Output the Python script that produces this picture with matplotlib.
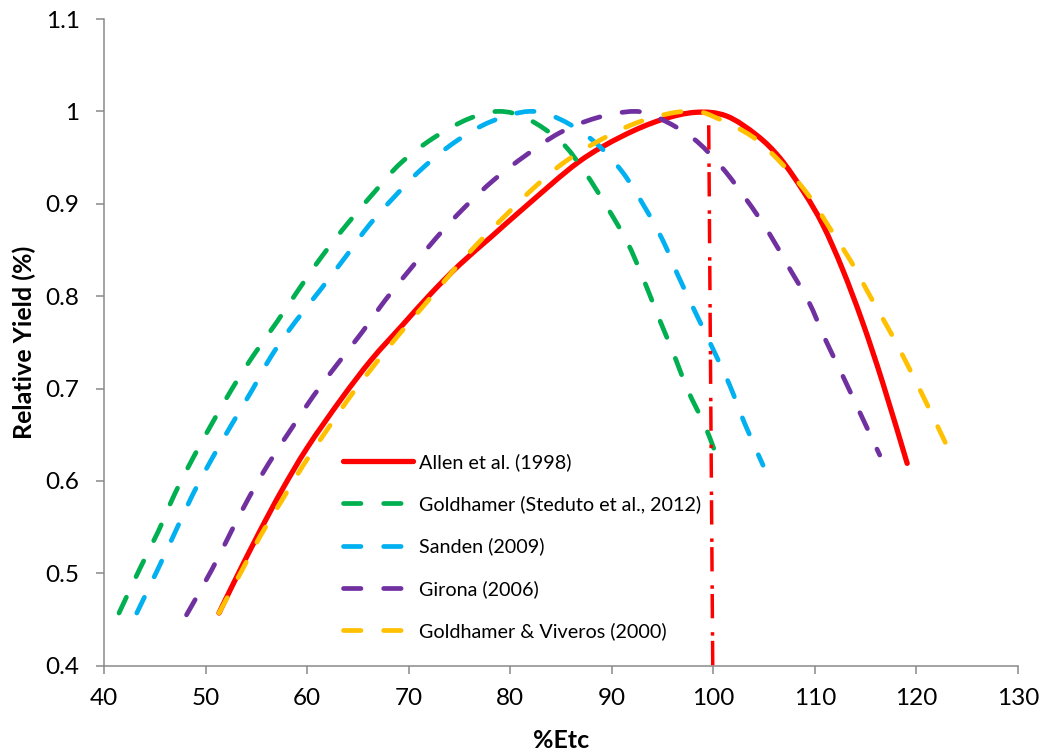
import matplotlib
matplotlib.use('Agg')
import matplotlib.pyplot as plt
from matplotlib.path import Path
from matplotlib.patches import PathPatch
from matplotlib.lines import Line2D

plt.rcParams['font.family'] = ['Lato', 'DejaVu Sans']

# relative yield vs. applied water (%ETc) for each production function
allen_x = [51.3, 52.9, 55.2, 57.5, 60.0, 63.3, 66.3, 69.4, 72.2, 75.0, 78.1, 81.4, 86.7,
           91.0, 94.9, 98.3, 101.3, 104.3, 106.6, 108.9, 110.8, 112.7, 114.7, 116.7, 119.1]
allen_y = [0.457, 0.493, 0.543, 0.590, 0.636, 0.688, 0.731, 0.769, 0.803, 0.834, 0.864, 0.896, 0.945,
           0.973, 0.991, 0.999, 0.995, 0.974, 0.949, 0.913, 0.877, 0.830, 0.772, 0.706, 0.619]

steduto_x = [41.45, 43.5, 45.3, 46.9, 48.7, 50.6, 52.6, 54.7, 57.0, 59.2, 61.5, 64.0, 66.8, 69.2,
             72.4, 75.9, 78.9, 81.7, 85.0, 87.3, 89.5, 91.5, 93.1, 94.5, 96.0, 97.5, 99.2, 100.6]
steduto_y = [0.457, 0.505, 0.545, 0.585, 0.624, 0.662, 0.700, 0.736, 0.772, 0.808, 0.844, 0.879, 0.915, 0.944,
             0.971, 0.992, 1.000, 0.992, 0.967, 0.935, 0.897, 0.859, 0.819, 0.780, 0.740, 0.698, 0.659, 0.619]

sanden_x = [43.2, 45.3, 47.0, 48.7, 50.6, 52.6, 54.6, 56.5, 58.8, 61.3, 63.8, 66.1, 68.7, 71.5,
            74.7, 78.1, 81.9, 85.0, 88.3, 91.0, 93.1, 95.0, 96.5, 98.3, 100.0, 101.6, 103.1, 104.9]
sanden_y = [0.457, 0.505, 0.545, 0.585, 0.624, 0.662, 0.699, 0.736, 0.772, 0.807, 0.843, 0.877, 0.909, 0.940,
            0.968, 0.989, 1.000, 0.991, 0.967, 0.935, 0.899, 0.861, 0.823, 0.781, 0.742, 0.704, 0.662, 0.617]

girona_x = [48.1, 50.6, 52.4, 54.2, 56.2, 58.4, 60.6, 63.0, 65.4, 67.7, 70.2, 72.7, 75.4, 78.4, 81.6,
            84.9, 88.5, 92.2, 94.6, 98.0, 100.8, 103.3, 105.4, 107.4, 109.4, 111.0, 112.7, 114.4, 116.4]
girona_y = [0.455, 0.504, 0.543, 0.581, 0.619, 0.656, 0.692, 0.727, 0.761, 0.796, 0.830, 0.863, 0.895, 0.926, 0.953,
            0.977, 0.993, 1.000, 0.993, 0.971, 0.940, 0.904, 0.870, 0.832, 0.794, 0.754, 0.715, 0.675, 0.628]

viveros_x = [51.3, 53.6, 55.4, 57.5, 59.6, 61.8, 64.2, 66.5, 69.0, 71.5, 74.1, 76.7, 79.5, 82.2, 85.2,
             88.7, 92.3, 95.8, 98.3, 100.1, 103.8, 106.7, 109.4, 111.4, 113.6, 115.5, 117.5, 119.3, 121.1, 123.1]
viveros_y = [0.457, 0.504, 0.541, 0.579, 0.617, 0.653, 0.691, 0.724, 0.758, 0.790, 0.824, 0.856, 0.887, 0.916, 0.944,
             0.968, 0.987, 0.998, 1.000, 0.994, 0.973, 0.944, 0.909, 0.875, 0.837, 0.799, 0.760, 0.722, 0.682, 0.636]

# 100 % ETc reference line
ref_x = [99.55, 99.95]
ref_y = [0.985, 0.395]

labels = ['Allen et al. (1998)', 'Goldhamer (Steduto et al., 2012)', 'Sanden (2009)',
          'Girona (2006)', 'Goldhamer & Viveros (2000)']
colors = ['#FF0000', '#00B050', '#00B0F0', '#7030A0', '#FFC000']

x_ticks = list(range(40, 131, 10))
y_ticks = [0.4, 0.5, 0.6, 0.7, 0.8, 0.9, 1.0, 1.1]
y_tick_labels = ['0.4', '0.5', '0.6', '0.7', '0.8', '0.9', '1', '1.1']


def smooth_path(xs, ys):
    # Excel-style smoothed line: cubic bezier through every point (catmull-rom tangents)
    pts = list(zip(xs, ys))
    n = len(pts)
    verts = [pts[0]]
    codes = [Path.MOVETO]
    for i in range(n - 1):
        p0 = pts[max(i - 1, 0)]
        p1 = pts[i]
        p2 = pts[i + 1]
        p3 = pts[min(i + 2, n - 1)]
        c1 = (p1[0] + (p2[0] - p0[0]) / 6, p1[1] + (p2[1] - p0[1]) / 6)
        c2 = (p2[0] - (p3[0] - p1[0]) / 6, p2[1] - (p3[1] - p1[1]) / 6)
        verts += [c1, c2, p2]
        codes += [Path.CURVE4] * 3
    return Path(verts, codes)


fig = plt.figure(figsize=(10.41, 7.51), dpi=100)
ax = fig.add_axes([0.1002, 0.1136, 0.8775, 0.8611])

series = [(allen_x, allen_y), (steduto_x, steduto_y), (sanden_x, sanden_y),
          (girona_x, girona_y), (viveros_x, viveros_y)]
handles = []
for i, ((xs, ys), lab, col) in enumerate(zip(series, labels, colors)):
    if i == 0:
        style = dict(lw=3.8, linestyle='-')
    else:
        style = dict(lw=3.4, linestyle=(0, (3.7, 4.8)))
    ax.add_patch(PathPatch(smooth_path(xs, ys), fill=False, edgecolor=col, capstyle='round',
                           joinstyle='round', zorder=2 + i, **style))
    handles.append(Line2D([], [], color=col, label=lab, solid_capstyle='round',
                          dash_capstyle='round', **style))

ref, = ax.plot(ref_x, ref_y, color='#FF0000', lw=2.5, clip_on=False, dash_capstyle='butt', zorder=8)
ref.set_dashes((7.0, 4.0, 1.0, 1.5))

ax.set_xlim(40, 130)
ax.set_ylim(0.4, 1.1)
ax.set_xticks(x_ticks)
ax.set_yticks(y_ticks)
ax.set_yticklabels(y_tick_labels)

for side in ['top', 'right']:
    ax.spines[side].set_visible(False)
for side in ['left', 'bottom']:
    ax.spines[side].set_color('#898989')
    ax.spines[side].set_linewidth(1.1)
ax.tick_params(axis='both', direction='out', length=5.8, width=1.1, color='#898989',
               labelsize=17.5, labelcolor='black')
ax.tick_params(axis='y', pad=12)
ax.tick_params(axis='x', pad=10)

ax.set_xlabel('%Etc', fontsize=18, fontweight='bold')
ax.set_ylabel('Relative Yield (%)', fontsize=18, fontweight='bold')
ax.xaxis.set_label_coords(0.5, -0.098)
ax.yaxis.set_label_coords(-0.075, 0.5)

ax.legend(handles=handles, loc='upper left', bbox_to_anchor=(0.261, 0.329), frameon=False,
          fontsize=14.2, handlelength=3.55, handletextpad=0.32, labelspacing=1.24, borderpad=0,
          borderaxespad=0)

fig.savefig('out.png', dpi=100)
